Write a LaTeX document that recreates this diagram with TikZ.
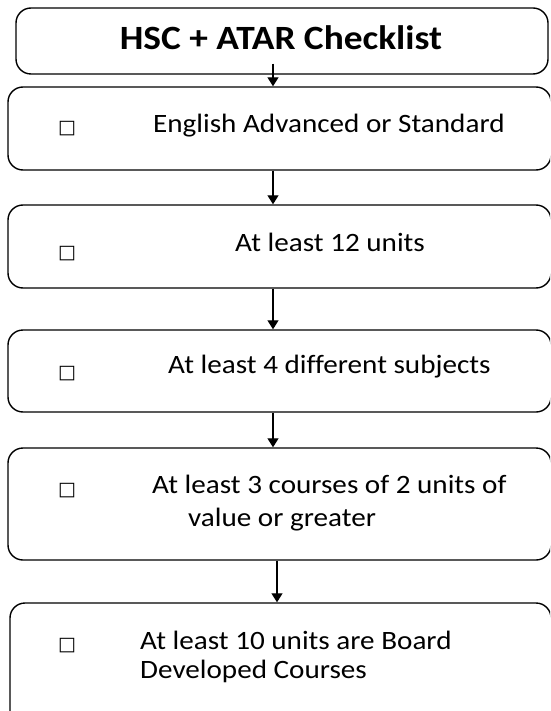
\documentclass[tikz,border=0pt]{standalone}
\usepackage{fontspec}
\setmainfont{Carlito}[FakeStretch=1.1, Ligatures=NoCommon]
\newfontfamily\symfont{DejaVu Sans}
\usetikzlibrary{arrows.meta}
\tikzset{
  box/.style={draw, line width=1.4pt, rounded corners=15pt, inner sep=0pt},
  arr/.style={line width=1.1pt, -{Triangle[width=11pt,length=9pt]}},
  txt/.style={anchor=base west, inner sep=0pt, font=\fontsize{26.5}{29}\selectfont},
  chk/.style={anchor=base west, inner sep=0pt, font=\symfont\fontsize{19}{19}\selectfont},
}
\begin{document}
\begin{tikzpicture}[x=1pt,y=-1pt]
\useasboundingbox (0,0) rectangle (550,711);
\clip (0,0) rectangle (550,711);
% boxes
\node[box, minimum width=532pt, minimum height=66pt] (t) at (282,41) {};
\node[box, minimum width=543pt, minimum height=83pt] (b1) at (279.5,128.5) {};
\node[box, minimum width=543pt, minimum height=83pt] (b2) at (279.5,246.5) {};
\node[box, minimum width=543pt, minimum height=82pt] (b3) at (279.5,371) {};
\node[box, minimum width=543pt, minimum height=112pt] (b4) at (279.5,504) {};
\node[box, minimum width=541pt, minimum height=130pt] (b5) at (280.5,668) {};
% title
\node[anchor=base, inner sep=0pt, font=\fontsize{34}{34}\selectfont\bfseries] (tt) at (281,50) {HSC + ATAR Checklist};
% texts
\node[chk] (c1) at (58,134) {□};
\node[txt] (x1) at (153,133) {English Advanced or Standard};
\node[chk] (c2) at (58,258) {□};
\node[txt] (x2) at (235,251) {At least 12 units};
\node[chk] (c3) at (58,378) {□};
\node[txt] (x3) at (168,373) {At least 4 different subjects};
\node[chk] (c4) at (58,495) {□};
\node[txt] (x4a) at (152,493) {At least 3 courses of 2 units of};
\node[txt] (x4b) at (188,526) {value or greater};
\node[chk] (c5) at (58,650) {□};
\node[txt] (x5a) at (140,649) {At least 10 units are Board};
\node[txt] (x5b) at (140,678) {Developed Courses};
% connectors
\coordinate (ax) at (273,0);
\coordinate (ay) at (277,0);
\draw[arr] (t.south -| ax) ++(0,-11) -- (b1.north -| ax);
\draw[arr] (b1.south -| ax) -- (b2.north -| ax);
\draw[arr] (b2.south -| ax) -- (b3.north -| ax);
\draw[arr] (b3.south -| ax) -- (b4.north -| ax);
\draw[arr] (b4.south -| ay) -- (b5.north -| ay);
\end{tikzpicture}
\end{document}
